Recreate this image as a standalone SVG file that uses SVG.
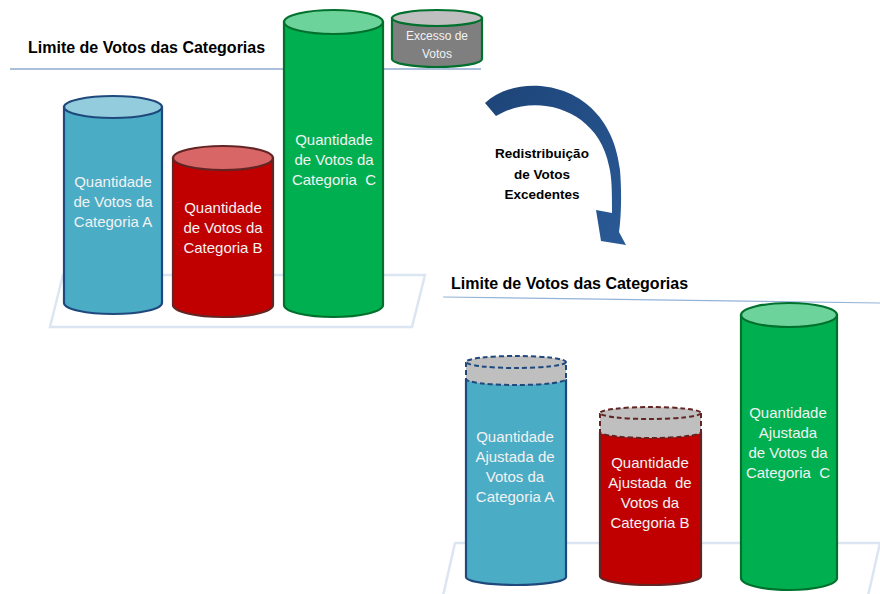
<svg xmlns="http://www.w3.org/2000/svg" width="880" height="594" viewBox="0 0 880 594">
<defs>
<style>
.title{font-family:"Liberation Sans",Arial,sans-serif;font-weight:bold;font-size:16px;fill:#000}
.lbl{font-family:"Liberation Sans",Arial,sans-serif;font-size:15px;fill:#f2f2f2;text-anchor:middle}
.sm{font-family:"Liberation Sans",Arial,sans-serif;font-size:12px;fill:#f2f2f2;text-anchor:middle}
.arrlbl{font-family:"Liberation Sans",Arial,sans-serif;font-weight:bold;font-size:13.5px;fill:#000;text-anchor:middle}
.plat{fill:#fff;stroke:#dce6f2;stroke-width:2.5}
.blue{fill:#4bacc6;stroke:#1f497d;stroke-width:2.2}
.bluetop{fill:#93cddd;stroke:#1f497d;stroke-width:2.2}
.red{fill:#c00000;stroke:#632523;stroke-width:2.2}
.redtop{fill:#d96666;stroke:#632523;stroke-width:2.2}
.green{fill:#00b050;stroke:#00702d;stroke-width:2.2}
.greentop{fill:#6cd39a;stroke:#00702d;stroke-width:2.2}
.gray{fill:#7f7f7f;stroke:#00702d;stroke-width:2.2}
.graytop{fill:#bfbfbf;stroke:#00702d;stroke-width:2.2}
.capb{fill:#bfbfbf;stroke:#1f497d;stroke-width:2;stroke-dasharray:5 3}
.capr{fill:#bfbfbf;stroke:#632523;stroke-width:2;stroke-dasharray:5 3}
</style>
<linearGradient id="arrg" x1="0" y1="0" x2="1" y2="1">
<stop offset="0" stop-color="#1d4478"/>
<stop offset="1" stop-color="#2a5a96"/>
</linearGradient>
</defs>
<rect width="880" height="594" fill="#fff"/>

<!-- Top section -->
<g id="top-limit">
<text class="title" x="28" y="53">Limite de Votos das Categorias</text>
<line x1="10" y1="69" x2="481" y2="69" stroke="#5b82b8" stroke-width="1.2"/>
</g>
<g id="platform-top">
<polygon class="plat" points="63,275 425,275 412,327 50,327"/>
</g>
<g id="cyl-a">
<path class="blue" d="M64,107 V303 A49,11 0 0 0 162,303 V107 Z"/>
<ellipse class="bluetop" cx="113" cy="107" rx="49" ry="11"/>
<text class="lbl" x="113" y="187">Quantidade</text>
<text class="lbl" x="113" y="207">de Votos da</text>
<text class="lbl" x="113" y="227">Categoria A</text>
</g>
<g id="cyl-b">
<path class="red" d="M173,158 V305 A50,12 0 0 0 273,305 V158 Z"/>
<ellipse class="redtop" cx="223" cy="158" rx="50" ry="12"/>
<text class="lbl" x="223" y="213">Quantidade</text>
<text class="lbl" x="223" y="233">de Votos da</text>
<text class="lbl" x="223" y="253">Categoria B</text>
</g>
<g id="cyl-c">
<path class="green" d="M284,22 V305 A49.5,12 0 0 0 383,305 V22 Z"/>
<ellipse class="greentop" cx="333.5" cy="22" rx="49.5" ry="12"/>
<text class="lbl" x="334" y="145">Quantidade</text>
<text class="lbl" x="334" y="165">de Votos da</text>
<text class="lbl" x="334" y="185" xml:space="preserve">Categoria  C</text>
</g>
<g id="excesso">
<path class="gray" d="M392,18 V59 A45,8 0 0 0 482,59 V18 Z"/>
<ellipse class="graytop" cx="437" cy="18" rx="45" ry="8"/>
<text class="sm" x="437" y="40">Excesso de</text>
<text class="sm" x="437" y="58">Votos</text>
</g>

<!-- Connector -->
<g id="connectors">
<path fill="url(#arrg)" d="M485,103 C520,70 610,80 620,170 C622,195 621,218 619,232 L626,245 L601,241 L596,210 L612,213 C612,192 612,178 609,166 C598,108 535,92 496,116 Z"/>
</g>
<g id="redistrib-label">
<text class="arrlbl" x="542" y="158">Redistribuição</text>
<text class="arrlbl" x="542" y="179">de Votos</text>
<text class="arrlbl" x="542" y="199">Excedentes</text>
</g>

<!-- Bottom section -->
<g id="bottom-limit">
<text class="title" x="451" y="289">Limite de Votos das Categorias</text>
<line x1="443" y1="297" x2="880" y2="303" stroke="#95b3d7" stroke-width="1.2"/>
</g>
<g id="platform-bottom">
<polygon class="plat" points="455,543 880,543 868,596 443,596"/>
</g>
<g id="cyl-a2">
<path class="blue" d="M466,379 V577 A50,8 0 0 0 566,577 V379"/>
<path class="capb" d="M466,362 V379 A50,6 0 0 0 566,379 V362"/>
<ellipse class="capb" cx="516" cy="362" rx="50" ry="6"/>
<text class="lbl" x="515" y="442">Quantidade</text>
<text class="lbl" x="515" y="462">Ajustada de</text>
<text class="lbl" x="515" y="482">Votos da</text>
<text class="lbl" x="515" y="502">Categoria A</text>
</g>
<g id="cyl-b2">
<path class="red" d="M600,432 V576 A50.5,9 0 0 0 701,576 V432"/>
<path class="capr" d="M600,413 V432 A50.5,6 0 0 0 701,432 V413"/>
<ellipse class="capr" cx="650.5" cy="413" rx="50.5" ry="6"/>
<text class="lbl" x="650" y="468">Quantidade</text>
<text class="lbl" x="650" y="488" xml:space="preserve">Ajustada  de</text>
<text class="lbl" x="650" y="508">Votos da</text>
<text class="lbl" x="650" y="528">Categoria B</text>
</g>
<g id="cyl-c2">
<path class="green" d="M741,315 V578 A48,12 0 0 0 837,578 V315 Z"/>
<ellipse class="greentop" cx="789" cy="315" rx="48" ry="12"/>
<text class="lbl" x="788" y="418">Quantidade</text>
<text class="lbl" x="788" y="438">Ajustada</text>
<text class="lbl" x="788" y="458">de Votos da</text>
<text class="lbl" x="788" y="478" xml:space="preserve">Categoria  C</text>
</g>
</svg>
